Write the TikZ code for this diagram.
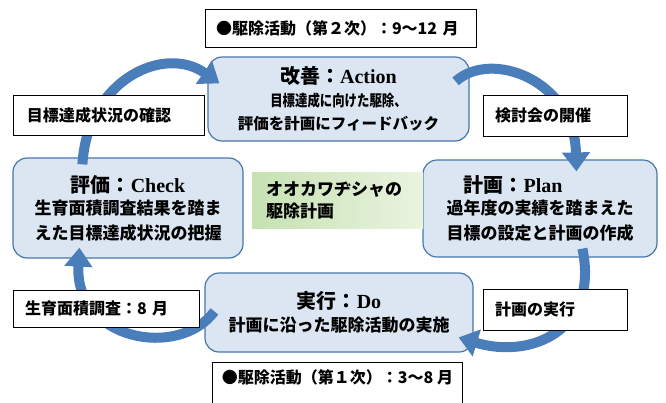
\documentclass[tikz,border=0pt]{standalone}
\usepackage{fontspec}
\setmainfont{Liberation Serif}
\newfontfamily\jp{Noto Sans CJK JP}
\usetikzlibrary{arrows.meta,calc}
\definecolor{boxfill}{RGB}{220,230,242}
\definecolor{boxline}{RGB}{72,118,170}
\definecolor{arr}{RGB}{74,126,187}
\definecolor{gA}{RGB}{198,225,178}
\definecolor{gB}{RGB}{234,244,224}
\begin{document}
\begin{tikzpicture}[x=1pt,y=-1pt,
  pdca/.style={draw=boxline, line width=1.2pt, fill=boxfill, rounded corners=14pt,
    inner sep=0pt, align=center, font=\fontsize{17}{23}\selectfont},
  lbl/.style={draw=black, line width=0.9pt, fill=white, inner xsep=12pt, inner ysep=0pt,
    align=left, font=\jp\bfseries\fontsize{16}{20}\selectfont},
  cyc/.style={draw=arr, line width=10pt, -{Triangle[width=27pt,length=19pt]}}]
\useasboundingbox (0,0) rectangle (666,402);

% PDCA boxes
\node[pdca, minimum width=261, minimum height=84] (action) at (338.5,99)
  {{\bfseries\fontsize{20}{23}\selectfont{\jp 改善：}Action}\\
   {\jp\bfseries\fontsize{15.5}{23}\selectfont\scalebox{0.8}[1]{目標達成に向けた駆除、}}\\
   {\jp\bfseries\fontsize{15.5}{23}\selectfont 評価を計画にフィードバック}};
\node[pdca, minimum width=230, minimum height=100] (check) at (128,208)
  {{\bfseries\fontsize{20}{23}\selectfont{\jp 評価：}Check}\\[-1pt]
   {\jp\bfseries 生育面積調査結果を踏ま}\\[2pt]
   {\jp\bfseries えた目標達成状況の把握}};
\node[pdca, minimum width=234, minimum height=97] (plan) at (540,208.5)
  {{\bfseries\fontsize{20}{23}\selectfont{\jp 計画：}Plan\hspace*{54pt}}\\[-1pt]
   {\jp\bfseries 過年度の実績を踏まえた}\\[2pt]
   {\jp\bfseries 目標の設定と計画の作成}};
\node[pdca, minimum width=268, minimum height=79] (do) at (339,312.5)
  {{\bfseries\fontsize{20}{23}\selectfont{\jp 実行：}Do}\\
   {\jp\bfseries 計画に沿った駆除活動の実施}};

% centre
\node[left color=gA, right color=gB, minimum width=171, minimum height=56,
  text width=143, inner xsep=14pt, inner ysep=0pt, align=left,
  font=\jp\bfseries\fontsize{17}{22}\selectfont] (title) at (337.5,200)
  {オオカワヂシャの\\駆除計画};

% cycle arrows
\draw[cyc] ($(check.north west)+(70,7)$) .. controls ($(check.north west)+(75,-78)$)
  and ($(action.north west)+(-43,-12)$) .. ($(action.north west)+(12,27)$);
\draw[cyc] ($(action.north east)+(-14,25)$) .. controls ($(action.north east)+(21,-7)$)
  and ($(plan.north west)+(152,-80)$) .. ($(plan.north west)+(154,12)$);
\draw[cyc] ($(plan.south west)+(160,-9)$) .. controls ($(plan.south west)+(177,73)$)
  and ($(do.north east)+(57,87)$) .. ($(do.north east)+(-15,65)$);
\draw[cyc] ($(do.north west)+(10,39)$) .. controls ($(do.north west)+(-25,87)$)
  and ($(check.south west)+(62,82)$) .. ($(check.south west)+(67,-11)$);

% labels
\node[lbl, minimum height=38, text width=249, inner xsep=11pt] (top) at (340.5,28) {●駆除活動（第２次）：9～12~月};
\node[lbl, minimum height=40, text width=163, inner xsep=14pt] (l1) at (108.5,115) {目標達成状況の確認};
\node[lbl, minimum height=41, text width=120] (l2) at (555,115.5) {検討会の開催};
\node[lbl, minimum height=37, text width=162] (l3) at (106,308.5) {生育面積調査：8~月};
\node[lbl, minimum height=41, text width=120] (l4) at (555,309.5) {計画の実行};
\node[lbl, anchor=base west, minimum width=250, inner xsep=0pt, text height=16, text depth=30, inner ysep=5pt] (bot) at (212,383)
  {●駆除活動（第１次）：3～8~月};
\end{tikzpicture}
\end{document}
